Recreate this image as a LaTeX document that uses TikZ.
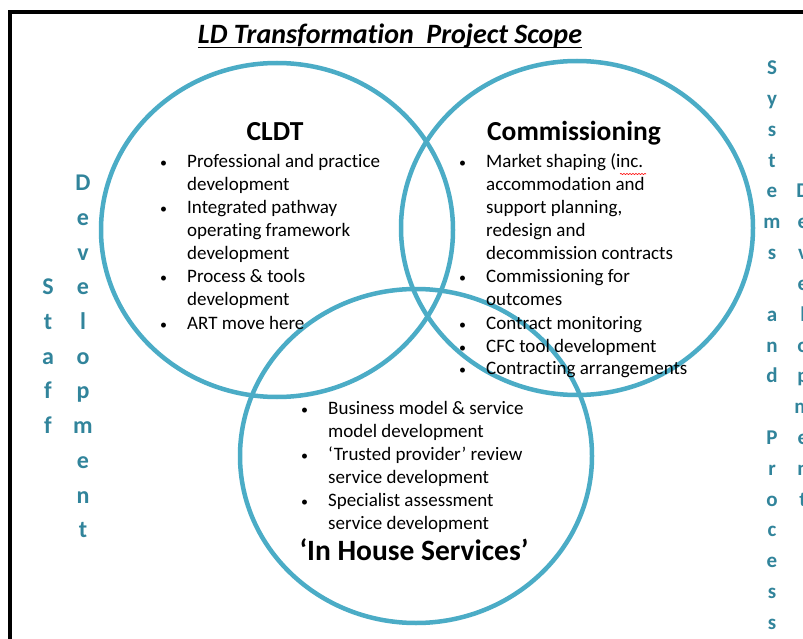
\documentclass[tikz,border=0pt]{standalone}
\usepackage{fontspec}
\setmainfont{Carlito}[Ligatures=NoCommon]
\usetikzlibrary{shapes.geometric,decorations.pathmorphing}
\definecolor{ringblue}{HTML}{4BACC6}
\definecolor{sideteal}{HTML}{31849B}
\newcommand\bul{{\fontsize{14}{14}\selectfont\textbullet}}
\newcommand\listfont{\fontsize{19}{23}\selectfont}
\begin{document}
\begin{tikzpicture}[x=1pt,y=-1pt,
  ring/.style={ellipse, draw=ringblue, line width=4.5pt, inner sep=0pt,
               minimum width=352pt, minimum height=334pt},
  heading/.style={inner sep=0pt, anchor=base,
                  font=\bfseries\fontsize{27.5}{30}\selectfont},
  itemlist/.style={inner sep=0pt, anchor=base west, font=\listfont},
  sideletter/.style={inner sep=0pt, anchor=base, text=sideteal,
                     font=\bfseries\fontsize{#1}{#1}\selectfont},
]
\useasboundingbox (0,0) rectangle (803,639);
\fill[white] (0,0) rectangle (803,639);

% frame
\draw[line width=3.2pt] (10,639) -- (10,12) -- (803,12);

% title
\node[inner sep=0pt, anchor=base, font=\bfseries\itshape\fontsize{28}{30}\selectfont]
  (title) at (390,44) {LD Transformation\ \ Project Scope};
\draw[line width=1.8pt] ([yshift=-3.5pt]title.base west) -- ([yshift=-3.5pt]title.base east);

% the three overlapping areas
\node[ring] (cldt) at (277,230) {};
\node[ring] (comm) at (577,228) {};
\node[ring] (house) at (416,456) {};

% headings
\node[heading] (cldthead) at (275,141) {CLDT};
\node[heading] (commhead) at (574,141) {Commissioning};
\node[heading, font=\bfseries\fontsize{29.5}{32}\selectfont] (househead) at (414,560) {‘In House Services’};

% item lists
\node[itemlist] (cldtlist) at (160,168) {%
  \begin{tabular}[t]{@{}p{27pt}@{}l@{}}
  \bul & Professional and practice\\
       & development\\
  \bul & Integrated pathway\\
       & operating framework\\
       & development\\
  \bul & Process \& tools\\
       & development\\
  \bul & ART move here
  \end{tabular}};

\node[itemlist] (commlist) at (459,168) {%
  \begin{tabular}[t]{@{}p{27pt}@{}l@{}}
  \bul & Market shaping (inc.\\
       & accommodation and\\
       & support planning,\\
       & redesign and\\
       & decommission contracts\\
  \bul & Commissioning for\\
       & outcomes\\
  \bul & Contract monitoring\\
  \bul & CFC tool development\\
  \bul & Contracting arrangements
  \end{tabular}};

\node[itemlist] (houselist) at (301,414) {%
  \begin{tabular}[t]{@{}p{27pt}@{}l@{}}
  \bul & Business model \& service\\
       & model development\\
  \bul & ‘Trusted provider’ review\\
       & service development\\
  \bul & Specialist assessment\\
       & service development
  \end{tabular}};

% spell-check mark under "inc."
\draw[red, line width=0.6pt, decorate,
      decoration={snake, amplitude=0.6pt, segment length=3pt}]
  (620,174) -- (646,174);

% stacked side captions
\foreach \ch [count=\i from 0] in {D,e,v,e,l,o,p,m,e,n,t}
  \node[sideletter=24] (devleft\i) at (83,{190.7+34.7*\i}) {\ch};
\foreach \ch [count=\i from 0] in {S,t,a,f,f}
  \node[sideletter=24] (staff\i) at (48,{294.8+34.7*\i}) {\ch};
\foreach \ch [count=\i from 0] in {S,y,s,t,e,m,s,{},a,n,d,{},P,r,o,c,e,s,s}
  \node[sideletter=21] (sys\i) at (772,{74.8+30.8*\i}) {\ch};
\foreach \ch [count=\i from 0] in {D,e,v,e,l,o,p,m,e,n,t}
  \node[sideletter=21] (devright\i) at (803,{74.8+30.8*(\i+4)}) {\ch};
\end{tikzpicture}
\end{document}
